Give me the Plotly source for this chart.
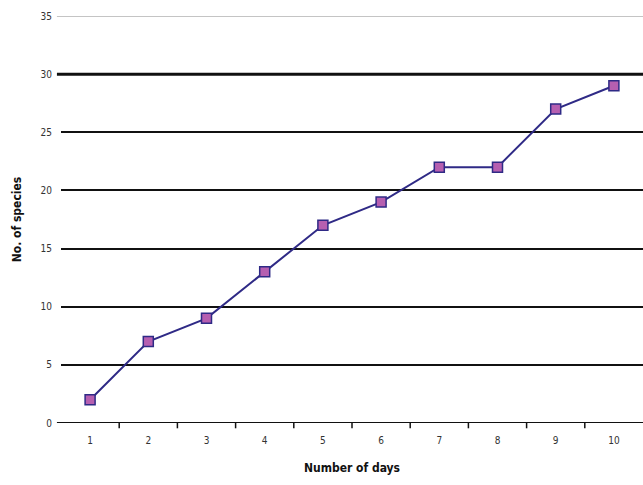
import plotly.graph_objects as go

# Cumulative species count per survey day
days = [1, 2, 3, 4, 5, 6, 7, 8, 9, 10]
day_labels = ["1", "2", "3", "4", "5", "6", "7", "8", "9", "10"]
species = [2, 7, 9, 13, 17, 19, 22, 22, 27, 29]
y_ticks = [0, 5, 10, 15, 20, 25, 30, 35]

fig = go.Figure()

fig.add_trace(go.Scatter(
    x=days, y=species, mode="lines+markers",
    line=dict(color="#2f2a86", width=2),
    marker=dict(symbol="square", size=10, color="#b65fb0",
                line=dict(color="#2f2a86", width=1.5)),
    showlegend=False,
))

# Heavier rule at 30 and lighter rule at the top of the scale
fig.add_shape(type="line", xref="paper", yref="y", x0=-0.007, x1=1, y0=30, y1=30,
              line=dict(color="#111111", width=3), layer="below")
fig.add_shape(type="line", xref="paper", yref="y", x0=-0.007, x1=1, y0=35, y1=35,
              line=dict(color="#8a8a8a", width=1.2), layer="below")

tick_font = dict(family="DejaVu Sans Condensed, sans-serif",
                 size=10, color="#333333")
title_font = dict(family="DejaVu Sans Condensed, sans-serif",
                  size=12, color="#111111")

fig.update_layout(
    width=643, height=485,
    margin=dict(l=61, r=0, t=16, b=62),
    paper_bgcolor="white", plot_bgcolor="white",
    xaxis=dict(
        range=[0.5, 10.5], tickmode="array", tickvals=days, ticktext=day_labels,
        showgrid=False, zeroline=False, showline=False,
        ticks="", tickfont=tick_font, ticklabelstandoff=10,
        title=dict(text="<b>Number of days</b>", font=title_font, standoff=18),
        fixedrange=True,
    ),
    yaxis=dict(
        range=[0, 35], tickmode="array", tickvals=y_ticks,
        showgrid=True, gridcolor="#111111", gridwidth=1.5,
        zeroline=False, showline=False, ticks="", tickfont=tick_font,
        ticklabelstandoff=8,
        title=dict(text="<b>No. of species</b>", font=title_font, standoff=16),
    ),
)

# Category-boundary tick marks and base axis line
fig.add_shape(type="line", xref="paper", yref="y", x0=-0.007, x1=1, y0=0, y1=0,
              line=dict(color="#111111", width=2))
for b in [d + 0.5 for d in days[:-1]]:
    fig.add_shape(type="line", xref="x", yref="paper", x0=b, x1=b, y0=0, y1=-0.013,
                  line=dict(color="#111111", width=1.5))

fig.write_html("out.html")
